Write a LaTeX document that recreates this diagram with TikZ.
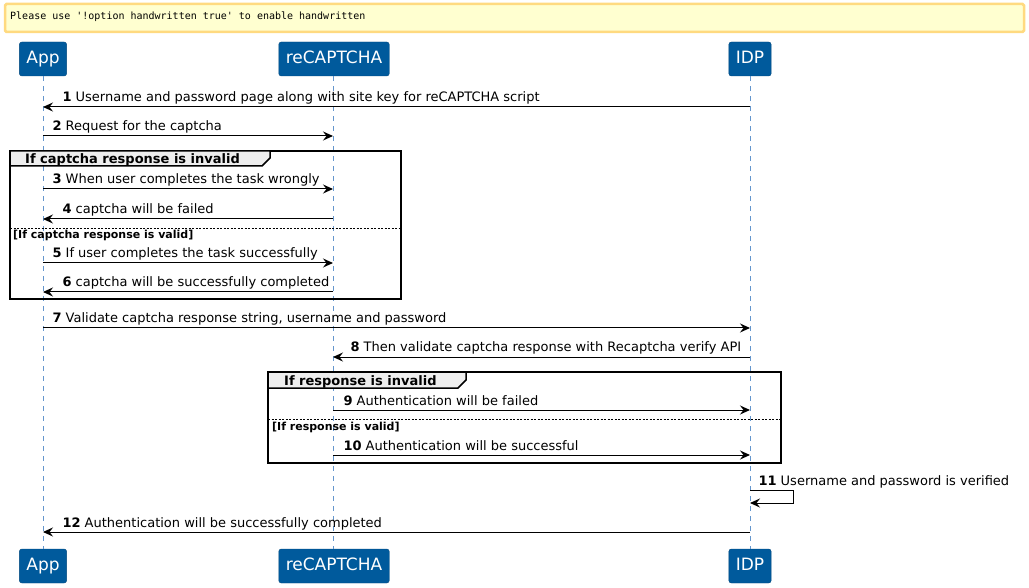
\documentclass[tikz,border=0pt]{standalone}
\usepackage{fontspec}
\setmainfont{DejaVu Sans}
\setmonofont{DejaVu Sans Mono}
\usepackage{tikz}
\usetikzlibrary{arrows.meta,calc,positioning}
\definecolor{partblue}{RGB}{0,90,156}
\definecolor{lifeblue}{RGB}{100,150,205}
\definecolor{notefill}{RGB}{255,255,208}
\definecolor{noteline}{RGB}{255,218,128}
\definecolor{grphead}{RGB}{238,238,238}
\tikzset{
  part/.style={draw=partblue!80!black,fill=partblue,text=white,rounded corners=2.5pt,inner xsep=7pt,inner ysep=0pt,text height=12.5pt,text depth=3.5pt,minimum height=34pt,font=\fontsize{17}{20}\selectfont},
  life/.style={draw=lifeblue,dash pattern=on 5pt off 5pt,line width=0.8pt},
  msg/.style={-{Stealth[length=10pt,width=9pt,inset=3.5pt]},line width=1pt},
  lbl/.style={anchor=base west,inner sep=0pt,yshift=5pt,font=\fontsize{13}{15}\selectfont},
  grp/.style={line width=1.5pt},
  grptitle/.style={anchor=base west,inner sep=0pt,font=\fontsize{13}{15}\selectfont\bfseries},
  grpelse/.style={anchor=base west,inner sep=0pt,font=\fontsize{11}{13}\selectfont\bfseries}
}
\begin{document}
\begin{tikzpicture}[x=1pt,y=-1pt]
\useasboundingbox (0,0) rectangle (1029,588);
% note
\draw[fill=notefill,draw=noteline,line width=2.5pt,rounded corners=1.5pt] (5,4) rectangle (1024,32);
\node[anchor=base west,inner sep=0pt,font=\fontsize{10}{12}\selectfont\ttfamily] (note) at (10,20) {Please use '!option handwritten true' to enable handwritten};
% participants
\coordinate (app) at (43,0);
\coordinate (rec) at (333,0);
\coordinate (idp) at (750,0);
\node[part] (appTop) at (43,59) {App};
\node[part] (recTop) at (334,59) {reCAPTCHA};
\node[part] (idpTop) at (750,59) {IDP};
\node[part] (appBot) at (43,566) {App};
\node[part] (recBot) at (334,566) {reCAPTCHA};
\node[part] (idpBot) at (750,566) {IDP};
\draw[life] (app |- appTop.south) -- (app |- appBot.north);
\draw[life] (rec |- recTop.south) -- (rec |- recBot.north);
\draw[life] (idp |- idpTop.south) -- (idp |- idpBot.north);
% group frames
\draw[grp] (10,151) rectangle (401,299);
\draw[grp,fill=grphead] (10,151) -- (270,151) -- (270,158) -- (262,166) -- (10,166) -- cycle;
\node[grptitle] (g1) at (25,163.5) {If captcha response is invalid};
\draw[dash pattern=on 2pt off 1.5pt,line width=0.8pt] (10,228) -- (401,228);
\node[grpelse] (g1else) at (13,239) {[If captcha response is valid]};
\draw[grp] (268,372) rectangle (781,463);
\draw[grp,fill=grphead] (268,372) -- (466,372) -- (466,380) -- (458,388) -- (268,388) -- cycle;
\node[grptitle] (g2) at (284,385.5) {If response is invalid};
\draw[dash pattern=on 2pt off 1.5pt,line width=0.8pt] (268,419) -- (781,419);
\node[grpelse] (g2else) at (272,430) {[If response is valid]};
% messages
\draw[msg] ($(idp)+(0,107)$) -- node[lbl,at end,xshift=19pt] {\textbf{1} Username and password page along with site key for reCAPTCHA script} ($(app)+(0,107)$);
\draw[msg] ($(app)+(0,136)$) -- node[lbl,at start,xshift=9pt] {\textbf{2} Request for the captcha} ($(rec)+(0,136)$);
\draw[msg] ($(app)+(0,189)$) -- node[lbl,at start,xshift=9pt] {\textbf{3} When user completes the task wrongly} ($(rec)+(0,189)$);
\draw[msg] ($(rec)+(0,219)$) -- node[lbl,at end,xshift=19pt] {\textbf{4} captcha will be failed} ($(app)+(0,219)$);
\draw[msg] ($(app)+(0,263)$) -- node[lbl,at start,xshift=9pt] {\textbf{5} If user completes the task successfully} ($(rec)+(0,263)$);
\draw[msg] ($(rec)+(0,292)$) -- node[lbl,at end,xshift=19pt] {\textbf{6} captcha will be successfully completed} ($(app)+(0,292)$);
\draw[msg] ($(app)+(0,328)$) -- node[lbl,at start,xshift=9pt] {\textbf{7} Validate captcha response string, username and password} ($(idp)+(0,328)$);
\draw[msg] ($(idp)+(0,357)$) -- node[lbl,at end,xshift=17pt] {\textbf{8} Then validate captcha response with Recaptcha verify API} ($(rec)+(0,357)$);
\draw[msg] ($(rec)+(0,410)$) -- node[lbl,at start,xshift=10pt] {\textbf{9} Authentication will be failed} ($(idp)+(0,410)$);
\draw[msg] ($(rec)+(0,455)$) -- node[lbl,at start,xshift=10pt] {\textbf{10} Authentication will be successful} ($(idp)+(0,455)$);
\draw[msg] ($(idp)+(0,490)$) -- node[lbl,at start,xshift=8pt] {\textbf{11} Username and password is verified} ($(idp)+(43,490)$) -- ($(idp)+(43,503)$) -- ($(idp)+(0,503)$);
\draw[msg] ($(idp)+(0,532)$) -- node[lbl,at end,xshift=19pt] {\textbf{12} Authentication will be successfully completed} ($(app)+(0,532)$);
\end{tikzpicture}
\end{document}
